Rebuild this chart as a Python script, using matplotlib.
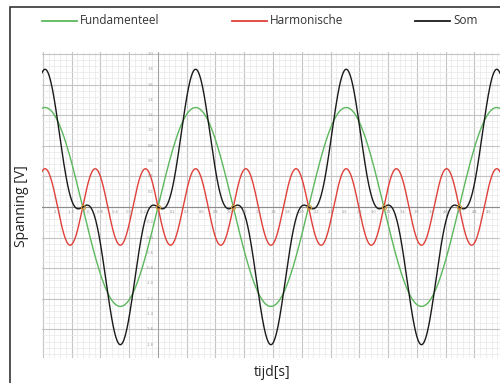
import numpy as np
import matplotlib.pyplot as plt
from matplotlib.lines import Line2D
from matplotlib.patches import Rectangle

# golven: amplitude [V] en hoekfrequentie
namen = ["Fundamenteel", "Harmonische", "Som"]
kleuren = ["#5cb85c", "#e0403a", "#1a1a1a"]
amplitudes = [1.3, -0.5]      # fundamenteel, harmonische (in tegenfase)
omega = [3.0, 9.0]
tijd_bereik = [-1.613, 4.757]
span_bereik = [-1.974, 2.026]

t = np.linspace(tijd_bereik[0], tijd_bereik[1], 2000)
fund = amplitudes[0] * np.sin(omega[0] * t)
harm = amplitudes[1] * np.sin(omega[1] * t)
som = fund + harm

fig = plt.figure(figsize=(5, 3.83), dpi=100)
ax = fig.add_axes([0.084, 0.0653, 0.916, 0.799])

# raster
ax.set_xticks(np.arange(-1.6, 4.8, 0.4))
ax.set_yticks(np.arange(-2.0, 2.1, 0.4))
ax.set_xticks(np.arange(-1.6, 4.8, 0.08), minor=True)
ax.set_yticks(np.arange(-2.0, 2.1, 0.08), minor=True)
ax.grid(True, which="major", color="#c4c4c4", lw=0.8)
ax.grid(True, which="minor", color="#e8e8e8", lw=0.5)
ax.tick_params(which="both", length=0, labelbottom=False, labelleft=False)
for s in ax.spines.values():
    s.set_visible(False)
ax.axhline(0, color="#8c8c8c", lw=0.8)
ax.axvline(0, color="#9a9a9a", lw=0.6)

# kleine aslabels zoals in het origineel
for x in np.arange(-1.4, 4.75, 0.2):
    if abs(x) > 1e-6:
        ax.text(x, -0.04, f"{x:.1f}", fontsize=2.5, color="#909090", ha="center", va="top")
for y in np.arange(-1.8, 2.05, 0.2):
    if abs(y) > 1e-6:
        ax.text(-0.06, y, f"{y:.1f}", fontsize=2.5, color="#909090", ha="right", va="center")

ax.plot(t, fund, color=kleuren[0], lw=1.0)
ax.plot(t, harm, color=kleuren[1], lw=1.0)
ax.plot(t, som, color=kleuren[2], lw=1.0)

# snijpunten met de tijdas
nul = np.arange(-1, 5) * np.pi / omega[0]
nul = nul[(nul > tijd_bereik[0]) & (nul < tijd_bereik[1])]
ax.plot(nul, np.zeros_like(nul), "o", ms=3, mfc="none", mec="#c89a3a", mew=0.8)

ax.set_xlim(tijd_bereik)
ax.set_ylim(span_bereik)

# legenda bovenaan
leg_x = [42, 232, 415]
for naam, kleur, x0 in zip(namen, kleuren, leg_x):
    fig.add_artist(Line2D([x0 / 500, (x0 + 35) / 500], [1 - 21 / 383] * 2,
                          color=kleur, lw=1.3, transform=fig.transFigure))
    fig.text((x0 + 38) / 500, 1 - 21 / 383, naam, fontsize=8.5, family="Open Sans",
             color="#333333", va="center", ha="left")

fig.text(22 / 500, 1 - 206 / 383, "Spanning [V]", rotation=90, fontsize=10,
         family="Open Sans", ha="center", va="center", color="#222222")
fig.text(272 / 500, 1 - 372 / 383, "tijd[s]", fontsize=10, family="Open Sans",
         ha="center", va="center", color="#222222")

# kader
fig.add_artist(Rectangle((10 / 500, -0.1), 1.2, 1 - 7 / 383 + 0.1, fill=False,
                         ec="#333333", lw=1.2, transform=fig.transFigure))

fig.savefig("out.png", dpi=100)
